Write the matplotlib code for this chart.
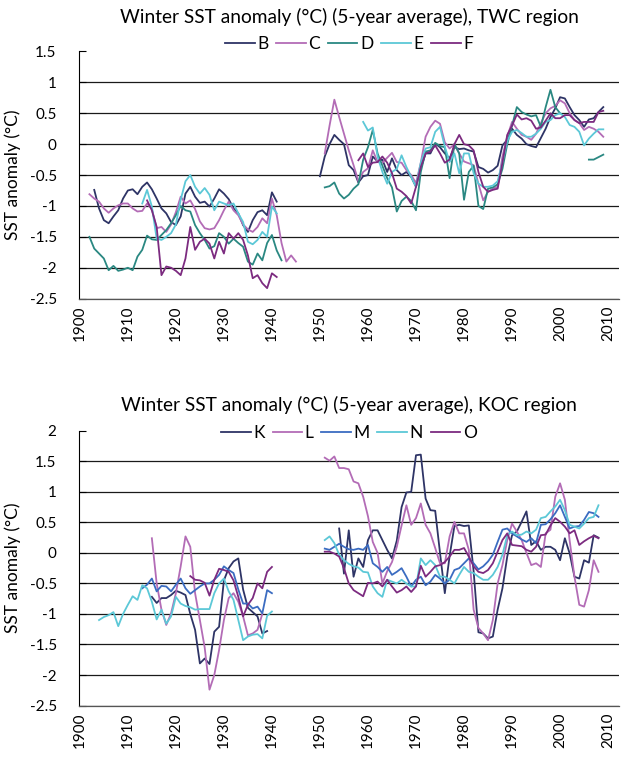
import numpy as np
import matplotlib
matplotlib.use('Agg')
from matplotlib import pyplot as plt
from matplotlib.ticker import FuncFormatter

plt.rcParams['font.family'] = ['Lato', 'DejaVu Sans']
plt.rcParams['axes.unicode_minus'] = False

YEAR_TICKS = list(range(1900, 2011, 10))

# TWC region: each series is a list of (first year, values) stretches
B_SEGS = [
    (1903, [-0.74, -1.04, -1.23, -1.28, -1.17, -1.07, -0.88, -0.75, -0.73, -0.81,
            -0.69, -0.62, -0.73, -0.88, -1.04, -1.12, -1.26, -1.31, -1.17, -0.80,
            -0.69, -0.85, -0.95, -0.93, -1.01, -0.88, -0.73, -0.80, -0.89, -1.04,
            -1.12, -1.31, -1.42, -1.23, -1.10, -1.07, -1.15, -0.78, -0.93]),
    (1950, [-0.52, -0.20, 0.00, 0.15, 0.07, 0.00, -0.34, -0.42, -0.62, -0.52,
            -0.50, -0.20, -0.28, -0.25, -0.45, -0.23, -0.42, -0.50, -0.45, -0.53,
            -0.69, -0.39, -0.15, -0.15, 0.01, -0.05, -0.15, -0.23, -0.05, -0.08,
            -0.07, -0.10, -0.12, -0.37, -0.40, -0.46, -0.42, -0.35, -0.02, 0.07,
            0.25, 0.15, 0.09, 0.00, -0.03, -0.05, 0.10, 0.25, 0.44, 0.58,
            0.76, 0.74, 0.60, 0.47, 0.39, 0.28, 0.40, 0.42, 0.52, 0.60]),
]
C_SEGS = [
    (1902, [-0.81, -0.88, -0.93, -1.04, -1.11, -1.04, -0.99, -0.96, -0.96, -1.04,
            -1.09, -1.08, -0.96, -1.05, -1.36, -1.34, -1.42, -1.30, -1.10, -0.85,
            -0.96, -0.91, -1.05, -1.25, -1.36, -1.38, -1.36, -1.23, -1.07, -0.93,
            -1.07, -1.15, -1.30, -1.38, -1.42, -1.34, -1.20, -1.28, -0.88, -1.15,
            -1.60, -1.90, -1.80, -1.90]),
    (1951, [-0.15, 0.30, 0.72, 0.44, 0.17, -0.10, -0.34, -0.60, -0.45, -0.39,
            -0.10, -0.29, -0.30, -0.22, -0.14, -0.29, -0.30, -0.42, -0.50, -0.63,
            -0.30, 0.12, 0.28, 0.38, 0.33, 0.03, -0.07, 0.00, -0.15, -0.28,
            -0.31, -0.34, -0.64, -0.91, -0.77, -0.72, -0.69, -0.20, 0.12, 0.36,
            0.25, 0.15, 0.12, 0.07, 0.17, 0.34, 0.50, 0.58, 0.62, 0.71,
            0.66, 0.50, 0.39, 0.34, 0.23, 0.28, 0.25, 0.20, 0.12]),
]
D_SEGS = [
    (1902, [-1.50, -1.69, -1.77, -1.85, -2.04, -1.97, -2.05, -2.03, -2.00, -2.04,
            -1.82, -1.71, -1.48, -1.54, -1.55, -1.47, -1.39, -1.28, -1.15, -1.00,
            -1.07, -1.09, -1.31, -1.44, -1.55, -1.69, -1.65, -1.44, -1.50, -1.61,
            -1.53, -1.60, -1.66, -1.90, -1.95, -1.77, -1.88, -1.60, -1.47, -1.72,
            -1.88]),
    (1951, [-0.70, -0.68, -0.62, -0.80, -0.88, -0.82, -0.72, -0.65, -0.25, -0.05,
            0.23, -0.15, -0.35, -0.55, -0.70, -1.09, -0.92, -0.85, -0.92, -1.07,
            -0.45, -0.12, -0.10, 0.02, -0.03, -0.05, -0.55, 0.00, -0.15, -0.90,
            -0.45, -0.35, -1.00, -1.05, -0.72, -0.70, -0.65, -0.40, 0.00, 0.30,
            0.60, 0.52, 0.48, 0.45, 0.47, 0.28, 0.60, 0.88, 0.60, 0.50]),
    (2006, [-0.25, -0.25, -0.21, -0.17]),
]
E_SEGS = [
    (1913, [-0.96, -0.74, -1.01, -1.53, -1.55, -1.50, -1.44, -1.30, -0.90, -0.60,
            -0.50, -0.69, -0.80, -0.71, -0.82, -1.07, -0.93, -0.96, -0.99, -0.96,
            -1.12, -1.26, -1.58, -1.62, -1.55, -1.42, -1.50, -1.01, -1.12]),
    (1959, [0.36, 0.22, 0.27, -0.20, -0.45, -0.64, -0.45, -0.40, -0.18, -0.37,
            -0.53, -0.69, -0.30, -0.07, -0.05, 0.20, 0.28, -0.04, -0.29, -0.15,
            -0.47, -0.15, -0.15, -0.47, -0.64, -0.69, -0.69, -0.67, -0.60, -0.29,
            0.05, 0.20, 0.23, 0.18, 0.12, 0.12, 0.17, 0.25, 0.36, 0.39,
            0.47, 0.50, 0.44, 0.31, 0.28, 0.20, -0.02, 0.09, 0.17, 0.24,
            0.24]),
]
F_SEGS = [
    (1914, [-0.91, -1.07, -1.34, -2.12, -1.98, -2.00, -2.05, -2.12, -1.85, -1.34,
            -1.71, -1.58, -1.53, -1.61, -1.85, -1.58, -1.77, -1.44, -1.53, -1.44,
            -1.55, -1.80, -2.17, -2.12, -2.25, -2.33, -2.09, -2.15]),
    (1958, [-0.26, -0.15, -0.37, -0.30, -0.29, -0.20, -0.30, -0.47, -0.72, -0.77,
            -0.84, -0.96, -0.69, -0.37, -0.15, -0.12, -0.02, -0.15, -0.30, -0.25,
            0.00, 0.15, 0.00, -0.02, -0.10, -0.45, -0.69, -0.77, -0.74, -0.72,
            -0.30, 0.15, 0.30, 0.48, 0.40, 0.42, 0.38, 0.25, 0.27, 0.38,
            0.50, 0.42, 0.42, 0.47, 0.47, 0.39, 0.34, 0.36, 0.36, 0.36,
            0.52, 0.54]),
]

# KOC region
K_SEGS = [
    (1915, [-0.72, -0.82, -0.74, -0.74, -0.69, -0.62, -0.65, -0.69, -1.00, -1.26,
            -1.81, -1.73, -1.82, -1.29, -1.21, -0.45, -0.25, -0.14, -0.09, -0.60,
            -0.90, -0.97, -1.04, -1.32, -1.28]),
    (1954, [0.40, -0.34, 0.37, -0.39, -0.09, -0.23, 0.21, 0.37, 0.37, 0.21,
            0.05, -0.09, 0.20, 0.75, 0.99, 1.00, 1.60, 1.61, 0.89, 0.70,
            0.69, 0.00, -0.66, -0.05, 0.44, 0.46, 0.44, 0.45, -0.30, -1.30,
            -1.32, -1.40, -1.37, -0.93, -0.58, -0.06, 0.29, 0.35, 0.51, 0.68,
            0.13, 0.19, 0.05, 0.10, 0.10, 0.05, -0.12, 0.24, -0.01, -0.39,
            -0.42, -0.12, -0.16, 0.29, 0.25]),
]
L_SEGS = [
    (1915, [0.24, -0.50, -0.93, -1.18, -0.99, -0.66, -0.22, 0.27, 0.10, -0.66,
            -1.10, -1.55, -2.24, -2.00, -1.59, -1.10, -0.74, -0.66, -0.80, -1.04,
            -1.35, -1.32, -1.26, -1.00]),
    (1951, [1.56, 1.51, 1.58, 1.39, 1.39, 1.37, 1.17, 1.14, 0.92, 0.60,
            0.18, 0.00, -0.50, -0.30, -0.15, 0.10, 0.45, 0.78, 0.46, 0.57,
            0.81, 0.46, 0.32, 0.08, -0.17, -0.17, 0.27, 0.51, 0.32, 0.32,
            0.05, -0.93, -1.23, -1.32, -1.43, -1.10, -0.50, -0.20, 0.21, 0.48,
            0.35, 0.21, 0.00, -0.20, -0.17, -0.23, 0.32, 0.38, 0.92, 1.14,
            0.87, 0.20, -0.39, -0.85, -0.88, -0.61, -0.12, -0.31]),
]
M_SEGS = [
    (1913, [-0.58, -0.52, -0.42, -0.63, -0.54, -0.55, -0.63, -0.52, -0.42, -0.58,
            -0.67, -0.61, -0.55, -0.50, -0.50, -0.44, -0.36, -0.22, -0.28, -0.33,
            -0.60, -0.83, -0.83, -0.91, -0.88, -0.99, -0.61, -0.66]),
    (1951, [0.07, 0.05, 0.10, 0.15, 0.10, 0.06, 0.05, 0.07, 0.05, 0.13,
            -0.17, -0.23, -0.31, -0.23, -0.36, -0.31, -0.25, -0.39, -0.55, -0.44,
            -0.39, -0.53, -0.47, -0.36, -0.42, -0.50, -0.44, -0.28, -0.25, -0.17,
            -0.09, -0.17, -0.27, -0.22, -0.14, -0.03, 0.18, 0.38, 0.40, 0.32,
            0.27, 0.22, 0.18, 0.24, 0.16, 0.46, 0.47, 0.55, 0.65, 0.78,
            0.59, 0.40, 0.43, 0.44, 0.54, 0.67, 0.65, 0.59]),
]
N_SEGS = [
    (1904, [-1.10, -1.05, -1.02, -0.97, -1.20, -1.00, -0.85, -0.71, -0.77, -0.53,
            -0.58, -0.80, -1.09, -0.93, -1.16, -1.04, -0.72, -0.83, -0.87, -0.89,
            -0.93, -0.92, -0.92, -0.92, -0.66, -0.50, -0.42, -0.63, -0.77, -1.10,
            -1.43, -1.37, -1.34, -1.33, -1.40, -1.03, -0.96]),
    (1951, [0.21, 0.27, 0.16, -0.03, -0.12, -0.18, -0.22, -0.24, -0.31, -0.32,
            -0.55, -0.66, -0.72, -0.44, -0.47, -0.50, -0.44, -0.50, -0.55, -0.55,
            -0.09, -0.20, -0.12, -0.20, -0.39, -0.39, -0.44, -0.50, -0.36, -0.23,
            -0.31, -0.33, -0.39, -0.44, -0.44, -0.36, -0.23, -0.03, 0.29, 0.35,
            0.29, 0.30, 0.35, 0.32, 0.38, 0.57, 0.59, 0.68, 0.76, 0.87,
            0.70, 0.46, 0.43, 0.40, 0.48, 0.57, 0.59, 0.78]),
]
O_SEGS = [
    (1923, [-0.38, -0.44, -0.45, -0.49, -0.70, -0.44, -0.26, -0.28, -0.31, -0.45,
            -0.72, -1.04, -0.85, -0.74, -0.50, -0.58, -0.31, -0.23]),
    (1951, [0.02, 0.02, -0.01, -0.06, -0.25, -0.50, -0.61, -0.66, -0.71, -0.49,
            -0.50, -0.47, -0.55, -0.44, -0.55, -0.65, -0.61, -0.55, -0.64, -0.55,
            -0.21, -0.39, -0.31, -0.22, -0.20, -0.15, -0.06, 0.05, 0.05, 0.08,
            -0.06, -0.22, -0.31, -0.33, -0.28, -0.17, 0.02, 0.21, 0.32, 0.13,
            0.12, 0.11, 0.05, 0.02, 0.10, 0.29, 0.30, 0.45, 0.57, 0.51,
            0.43, 0.32, 0.37, 0.13, 0.19, 0.24, 0.28, 0.24]),
]

NAVY = '#2e3466'
PINK = '#b36cb6'
TEAL = '#2a8882'
CYAN = '#5cc8d7'
PLUM = '#7c2b80'
BLUE = '#3b6cc1'

TWC = [('B', B_SEGS, NAVY), ('C', C_SEGS, PINK), ('D', D_SEGS, TEAL),
       ('E', E_SEGS, CYAN), ('F', F_SEGS, PLUM)]
KOC = [('K', K_SEGS, NAVY), ('L', L_SEGS, PINK), ('M', M_SEGS, BLUE),
       ('N', N_SEGS, CYAN), ('O', O_SEGS, PLUM)]


def fmt_tick(v, pos):
    return '%g' % round(v, 2)


def draw_panel(ax, series, ylim, title, title_y, legend_y):
    for name, segs, color in series:
        for i, (start, vals) in enumerate(segs):
            yrs = np.arange(start, start + len(vals))
            ax.plot(yrs, vals, color=color, lw=1.3,
                    label=name if i == 0 else None)
    ax.set_xlim(1899.8, 2012.3)
    ax.set_ylim(*ylim)
    ax.set_yticks(np.arange(ylim[0], ylim[1] + 0.01, 0.5))
    ax.yaxis.set_major_formatter(FuncFormatter(fmt_tick))
    ax.set_xticks(YEAR_TICKS)
    ax.set_xticklabels([str(y) for y in YEAR_TICKS], rotation=90)
    ax.tick_params(axis='x', length=0, pad=5, labelsize=11)
    ax.tick_params(axis='y', direction='in', length=5, width=0.8,
                   pad=16, labelsize=11)
    ax.yaxis.grid(True, color='#1a1a1a', lw=0.9)
    ax.get_ygridlines()[-1].set_visible(False)
    ax.set_axisbelow(True)
    for side in ['top', 'right']:
        ax.spines[side].set_visible(False)
    ax.spines['left'].set_linewidth(0.8)
    ax.spines['bottom'].set_linewidth(0.9)
    ax.spines['bottom'].set_color('#555555')
    ax.set_ylabel('SST anomaly (°C)', fontsize=12.5, labelpad=6)
    cx = 349 / 621
    fig.text(cx, title_y, title, ha='center', va='center', fontsize=13.8)
    fig.legend(*ax.get_legend_handles_labels(), loc='center',
               bbox_to_anchor=(cx, legend_y), ncol=5, frameon=False,
               fontsize=12.5, handlelength=1.7, handletextpad=0.15,
               columnspacing=0.45, borderaxespad=0)


fig = plt.figure(figsize=(6.21, 7.57), dpi=100)
ax_top = fig.add_axes([0.127, 0.6055, 0.870, 0.3265])
ax_bot = fig.add_axes([0.127, 0.068, 0.870, 0.3629])

draw_panel(ax_top, TWC, (-2.5, 1.5),
           'Winter SST anomaly (°C) (5-year average), TWC region',
           1 - 17 / 757, 1 - 44 / 757)
draw_panel(ax_bot, KOC, (-2.5, 2.0),
           'Winter SST anomaly (°C) (5-year average), KOC region',
           1 - 405 / 757, 1 - 433 / 757)

fig.savefig('out.png', dpi=100)
